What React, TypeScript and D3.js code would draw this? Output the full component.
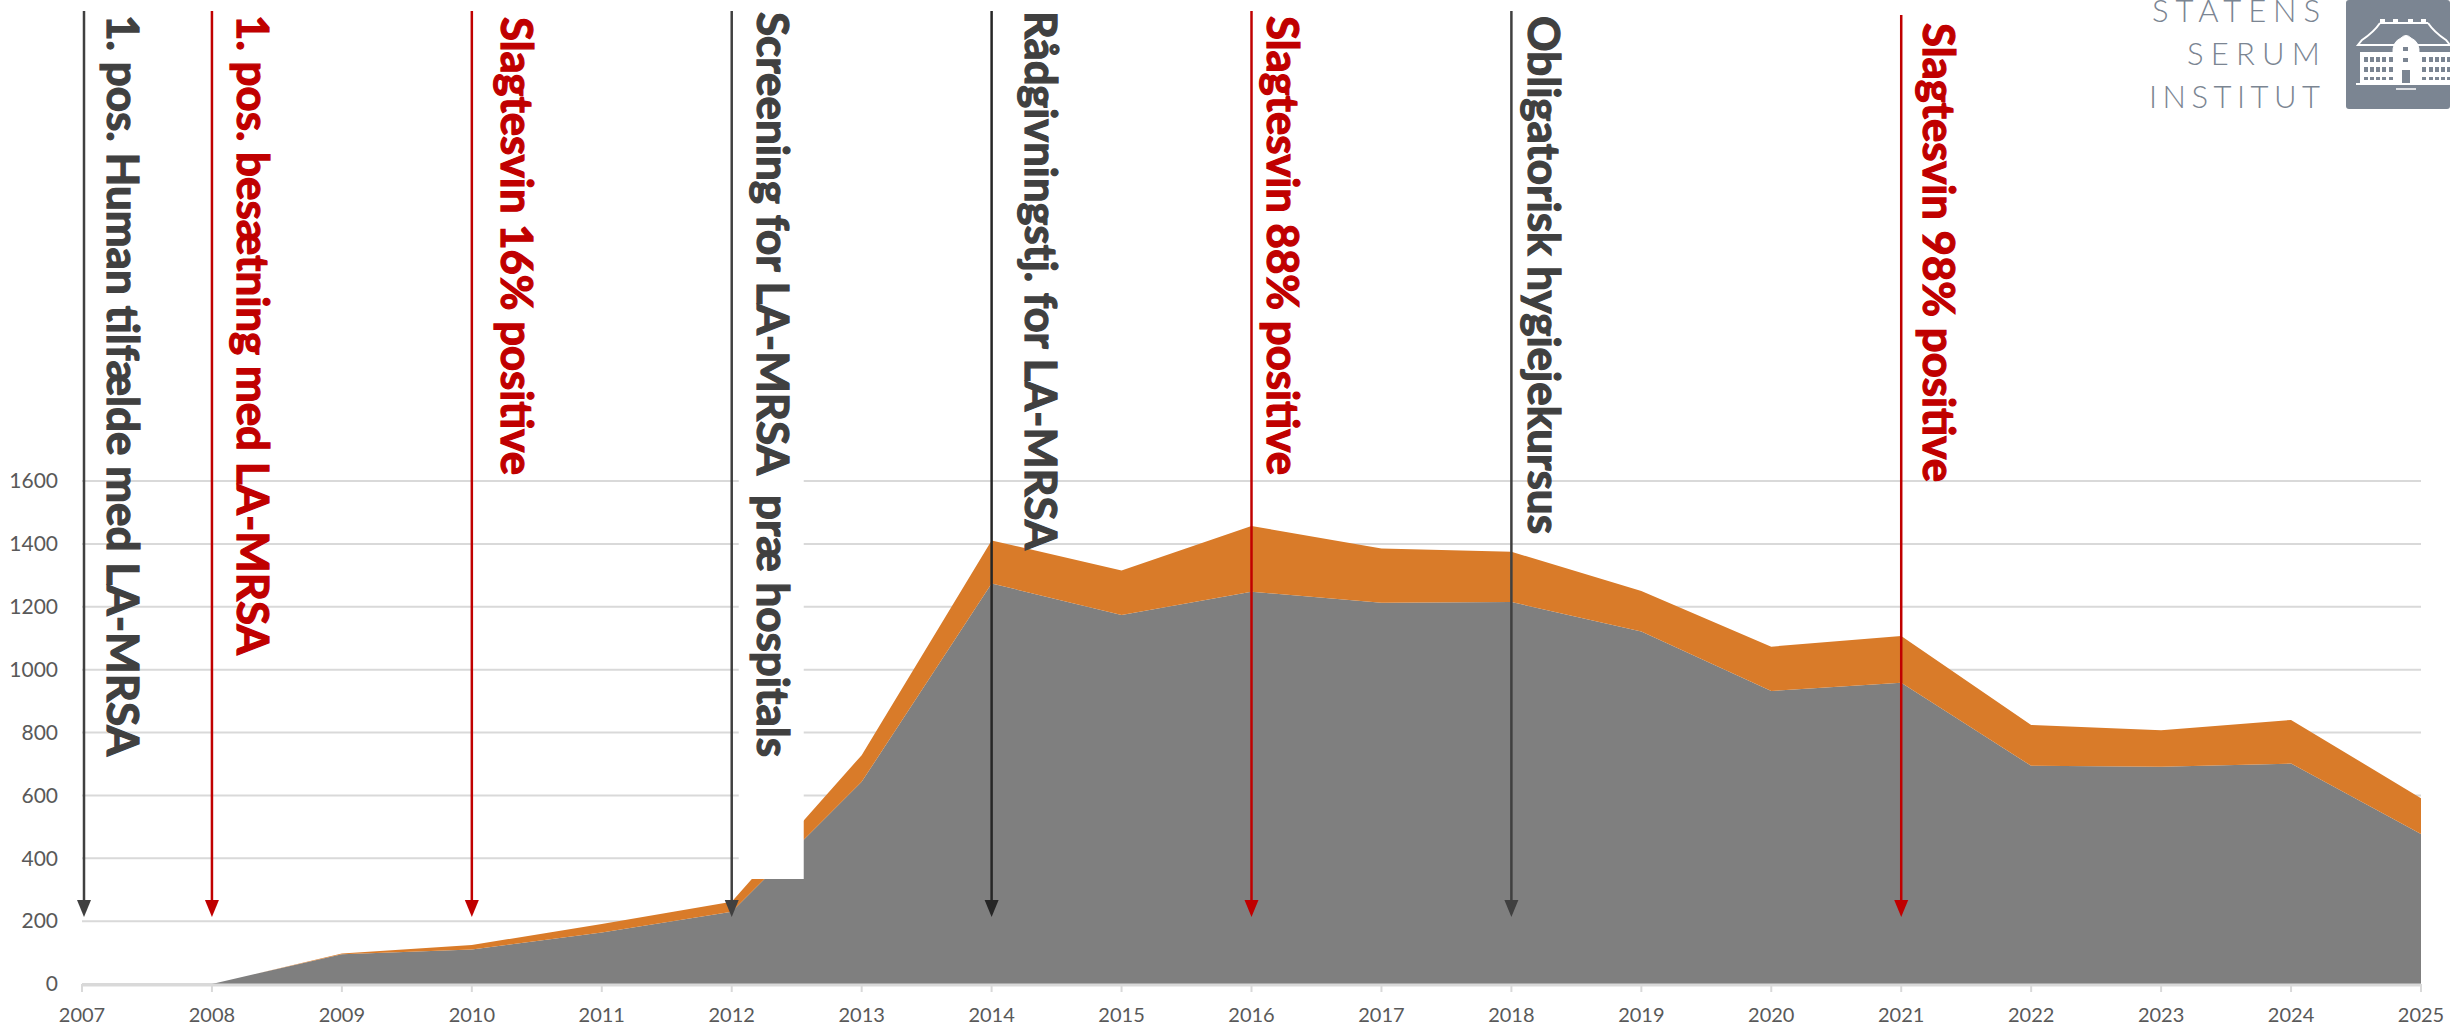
import React, { useEffect } from 'react'
import * as d3 from 'd3'

// yearly counts
const years = [2007, 2008, 2009, 2010, 2011, 2012, 2013, 2014, 2015, 2016, 2017, 2018, 2019, 2020, 2021, 2022, 2023, 2024, 2025]
const greyValues = [0, 0, 95, 110, 164, 230, 643, 1274, 1174, 1248, 1213, 1215, 1121, 932, 958, 694, 691, 701, 477]
const orangeValues = [0, 0, 2, 14, 27, 32, 85, 137, 141, 209, 172, 160, 129, 141, 149, 130, 116, 139, 114]
const yTicks = [0, 200, 400, 600, 800, 1000, 1200, 1400, 1600]

// events drawn as arrows
const eventYears = [2007, 2008, 2010, 2012, 2014, 2016, 2018, 2021]
const eventLabels = [
  '1. pos. Human tilfælde med LA-MRSA',
  '1. pos. besætning med LA-MRSA',
  'Slagtesvin 16% positive',
  'Screening for LA-MRSA  præ hospitals',
  'Rådgivningstj. for LA-MRSA',
  'Slagtesvin 88% positive',
  'Obligatorisk hygiejekursus',
  'Slagtesvin 98% positive',
]
const eventTypes = ['tiltag', 'svin', 'svin', 'tiltag', 'tiltag', 'svin', 'tiltag', 'svin']

// placement of the rotated labels (dx from arrow, top y, text length)
const labelLayout = [
  { dx: 23, top: 15, len: 741 },
  { dx: 25, top: 15, len: 640 },
  { dx: 29, top: 17, len: 458 },
  { dx: 25, top: 12, len: 745 },
  { dx: 33, top: 11, len: 539 },
  { dx: 15, top: 16, len: 459 },
  { dx: 17, top: 16, len: 518 },
  { dx: 22, top: 23, len: 459 },
]

const W = 2450, H = 1025
const FONT = 'Lato, "Open Sans", sans-serif'
const GREY = '#7f7f7f', ORANGE = '#d97b29', RED = '#c00000', DARK = '#404040'

export default function App() {
  useEffect(() => { document.body.style.margin = '0' }, [])

  const x = d3.scaleLinear().domain([2007, 2025]).range([82, 2421])
  const y = d3.scaleLinear().domain([0, 1600]).range([984, 481])

  const table = years.map((yr, i) => ({ year: yr, grey: greyValues[i], orange: orangeValues[i] }))
  const stack = d3.stack<any>().keys(['grey', 'orange'])(table)
  const area = d3.area<any>()
    .x(d => x(d.data.year))
    .y0(d => y(d[0]))
    .y1(d => y(d[1]))
  const fills = [GREY, ORANGE]

  const arrowTip = 917

  return (
    <svg width={W} height={H} style={{ position: 'absolute', left: 0, top: 0, background: '#fff' }} fontFamily={FONT}>
      {/* gridlines */}
      {yTicks.map(t => (
        <line key={t} x1={x(2007)} x2={x(2025)} y1={y(t)} y2={y(t)} stroke="#d9d9d9" strokeWidth={2} />
      ))}
      {/* stacked areas */}
      {stack.map((s, i) => (
        <path key={s.key} d={area(s) || ''} fill={fills[i]} />
      ))}
      {/* x axis */}
      <line x1={x(2007)} x2={x(2025)} y1={y(0) + 1} y2={y(0) + 1} stroke="#d9d9d9" strokeWidth={3} />
      {years.map(yr => (
        <g key={yr}>
          <line x1={x(yr)} x2={x(yr)} y1={y(0)} y2={y(0) + 8} stroke="#d9d9d9" strokeWidth={2} />
          <text x={x(yr)} y={1022} textAnchor="middle" fontSize={20} fill="#595959">{yr}</text>
        </g>
      ))}
      {yTicks.map(t => (
        <text key={t} x={58} y={y(t)} dy="0.35em" textAnchor="end" fontSize={21} fill="#595959">{t}</text>
      ))}

      {/* white text box behind the screening label */}
      <rect x={x(2012) + 7} y={0} width={65} height={879} fill="#fff" />

      {/* event arrows + labels */}
      {eventYears.map((yr, i) => {
        const col = eventTypes[i] === 'svin' ? RED : (yr === 2014 ? '#262626' : DARK)
        const tcol = eventTypes[i] === 'svin' ? RED : DARK
        const lx = x(yr) + (yr === 2007 ? 2 : 0)
        const top = yr === 2021 ? 15 : 11
        const L = labelLayout[i]
        return (
          <g key={yr}>
            <line x1={lx} x2={lx} y1={top} y2={arrowTip - 14} stroke={col} strokeWidth={2.5} />
            <path d={`M${lx - 7},${arrowTip - 17}L${lx + 7},${arrowTip - 17}L${lx},${arrowTip}Z`} fill={col} />
            <text
              transform={`translate(${lx + L.dx},${L.top}) rotate(90)`}
              fontSize={43}
              fontWeight={700}
              fill={tcol}
              stroke={tcol}
              strokeWidth={1.2}
              textLength={L.len}
              lengthAdjust="spacingAndGlyphs"
              style={{ whiteSpace: 'pre' }}
            >{eventLabels[i]}</text>
          </g>
        )
      })}

      {/* logo */}
      <g fill="#7b8592" fontWeight={300} fontSize={31}>
        <text x={2152} y={22} textLength={168} lengthAdjust="spacing">STATENS</text>
        <text x={2187} y={65} textLength={133} lengthAdjust="spacing">SERUM</text>
        <text x={2149} y={108} textLength={171} lengthAdjust="spacing">INSTITUT</text>
      </g>
      <g transform="translate(2346,0)">
        <rect x={0} y={0} width={104} height={109} rx={3} fill="#7b8592" />
        <g fill="#fff" stroke="#fff">
          {/* chimneys and ridge */}
          <line x1={34} x2={82} y1={23} y2={23} strokeWidth={2} />
          {[36, 49, 64, 77].map(cx => <rect key={cx} x={cx - 2} y={19} width={5} height={5} stroke="none" />)}
          {/* roof outline */}
          <path d="M34,23 Q28,32 16,40 L12,45 L104,45 L100,40 Q88,32 82,23" fill="none" strokeWidth={2} />
          {/* gable */}
          <path d="M47,54 Q46,42 55,38 Q60,33 65,38 Q74,42 73,54 Z" strokeWidth={1} />
          {/* walls */}
          <rect x={14} y={52} width={92} height={31} stroke="none" />
          <line x1={10} x2={108} y1={84} y2={84} strokeWidth={2} />
          <line x1={50} x2={70} y1={89} y2={89} strokeWidth={1.5} />
        </g>
        <g fill="#7b8592">
          {[18, 24, 30, 36, 43, 76, 83, 89, 95, 101].map(wx =>
            [57, 67, 77].map(wy => <rect key={wx + '-' + wy} x={wx} y={wy} width={4} height={wy === 77 ? 3 : 5} />)
          )}
          <rect x={57} y={47} width={5} height={4} />
          <rect x={57} y={58} width={5} height={4} />
          <rect x={56} y={70} width={8} height={13} />
          <rect x={28} y={47} width={4} height={4} />
          <rect x={87} y={47} width={4} height={4} />
        </g>
      </g>
    </svg>
  )
}
